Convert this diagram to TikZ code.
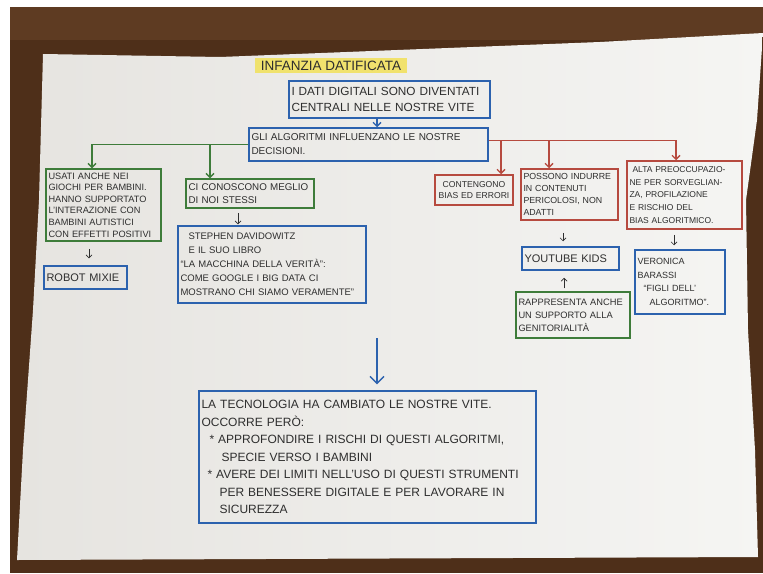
\documentclass[tikz,border=0pt]{standalone}
\usepackage{fontspec}
\setmainfont{Liberation Sans}
\usetikzlibrary{arrows.meta}
\definecolor{wood}{HTML}{4E2F19}
\definecolor{woodlight}{HTML}{5E3B22}
\definecolor{paperL}{HTML}{E6E4E0}
\definecolor{paperR}{HTML}{F5F5F3}
\definecolor{pblue}{HTML}{2C62AE}
\definecolor{pgreen}{HTML}{3E7C3A}
\definecolor{pred}{HTML}{B64A3F}
\definecolor{ink}{HTML}{2E2E2E}
\definecolor{hl}{HTML}{F2E158}
\begin{document}
\begin{tikzpicture}[x=1pt,y=-1pt,
  box/.style={draw, line width=1.5pt, rectangle, inner sep=2.5pt, align=left, text=ink},
  bluebox/.style={box, draw=pblue},
  greenbox/.style={box, draw=pgreen},
  redbox/.style={box, draw=pred},
  fsz/.style 2 args={font=\fontsize{#1}{#2}\selectfont},
  dims/.style 2 args={text width=#1-5pt, minimum width=#1, minimum height=#2},
  carrow/.style={line width=1.4pt, -{Straight Barb[length=4pt,width=8pt]}},
  sarrow/.style={line width=0.7pt, draw=ink, -{Straight Barb[length=3pt,width=6pt]}}
]
\useasboundingbox (0,0) rectangle (763,573);
% background
\fill[white] (0,0) rectangle (763,573);
\fill[wood] (10,7) rectangle (763,573);
\fill[woodlight] (10,7) rectangle (763,40);
\shade[left color=paperL, right color=paperR]
  (43,54) -- (220,57) -- (600,42) -- (763,33) -- (757,120) -- (746,200) -- (748,330)
  -- (755,450) -- (758,557) -- (17,560) -- (23,450) -- (33,310) -- (39,200) -- cycle;

% title
\fill[hl, opacity=0.85] (255,58) rectangle (407,73);
\node[text=ink, fsz={13.5}{15}] (title) at (331,65.5) {INFANZIA DATIFICATA};

% main boxes
\node[bluebox, fsz={11.8}{15.5}, dims={201pt}{37pt}] (b1) at (389.5,99.5)
  {I DATI DIGITALI SONO DIVENTATI\\CENTRALI NELLE NOSTRE VITE};
\node[bluebox, fsz={10}{14}, dims={239pt}{33pt}] (b2) at (368.5,144.5)
  {GLI ALGORITMI INFLUENZANO LE NOSTRE\\DECISIONI.};

% green branch
\node[greenbox, fsz={9.2}{11.6}, dims={115pt}{72pt}] (bA) at (103.5,205)
  {USATI ANCHE NEI\\GIOCHI PER BAMBINI.\\HANNO SUPPORTATO\\L'INTERAZIONE CON\\BAMBINI AUTISTICI\\CON EFFETTI POSITIVI};
\node[bluebox, fsz={11}{12}, dims={83pt}{23pt}] (bR) at (85.5,277.5) {ROBOT MIXIE};
\node[greenbox, fsz={9.8}{13}, dims={128pt}{29pt}] (bB) at (250,193.5)
  {CI CONOSCONO MEGLIO\\DI NOI STESSI};
\node[bluebox, fsz={9.5}{14}, dims={188pt}{77pt}] (bC) at (272,264.5)
  {\hspace*{8pt}STEPHEN DAVIDOWITZ\\\hspace*{8pt}E IL SUO LIBRO\\“LA MACCHINA DELLA VERITÀ”:\\COME GOOGLE I BIG DATA CI\\MOSTRANO CHI SIAMO VERAMENTE”};

% red branch
\node[redbox, fsz={8.6}{11.5}, text width=75pt, inner sep=1.5pt, minimum width=78pt, minimum height=30pt, align=center] (bD) at (474,190)
  {CONTENGONO\\BIAS ED ERRORI};
\node[redbox, fsz={8.8}{12}, dims={97pt}{51pt}] (bE) at (569.5,194.5)
  {POSSONO INDURRE\\IN CONTENUTI\\PERICOLOSI, NON\\ADATTI};
\node[redbox, fsz={8.5}{12.8}, dims={115pt}{68pt}] (bF) at (684.5,195)
  {\hspace*{3pt}ALTA PREOCCUPAZIO-\\NE PER SORVEGLIAN-\\ZA, PROFILAZIONE\\E RISCHIO DEL\\BIAS ALGORITMICO.};
\node[bluebox, fsz={11}{12}, dims={97pt}{23pt}] (bYT) at (570.5,258.5) {YOUTUBE KIDS};
\node[greenbox, fsz={9.3}{13}, dims={114pt}{46pt}] (bG) at (573,315)
  {RAPPRESENTA ANCHE\\UN SUPPORTO ALLA\\GENITORIALITÀ};
\node[bluebox, fsz={9}{13.5}, dims={90pt}{64pt}] (bV) at (680,282)
  {VERONICA\\BARASSI\\\hspace*{6pt}“FIGLI DELL'\\\hspace*{12pt}ALGORITMO”.};

% conclusion
\node[bluebox, fsz={12}{17.5}, dims={337pt}{132pt}] (bZ) at (367.5,457)
  {LA TECNOLOGIA HA CAMBIATO LE NOSTRE VITE.\\
   OCCORRE PERÒ:\\
   \hspace*{8pt}* APPROFONDIRE I RISCHI DI QUESTI ALGORITMI,\\
   \hspace*{20pt}SPECIE VERSO I BAMBINI\\
   \hspace*{6pt}* AVERE DEI LIMITI NELL'USO DI QUESTI STRUMENTI\\
   \hspace*{18pt}PER BENESSERE DIGITALE E PER LAVORARE IN\\
   \hspace*{18pt}SICUREZZA};

% connectors
\draw[carrow, draw=pblue] (b1.south -| 377,0) -- (b2.north -| 377,0);
\draw[carrow, draw=pgreen] (b2.west) -| (bA.north -| 92,0);
\draw[carrow, draw=pgreen] (b2.west -| 210,0) -- (bB.north -| 210,0);
\draw[carrow, draw=pred] ([yshift=4pt]b2.east) -| (bF.north -| 676,0);
\draw[carrow, draw=pred] ([yshift=4pt]b2.east -| 501,0) -- (bD.north -| 501,0);
\draw[carrow, draw=pred] ([yshift=4pt]b2.east -| 549,0) -- (bE.north -| 549,0);

\draw[sarrow, shorten <=7pt, shorten >=7pt] (bA.south -| 89,0) -- (bR.north -| 89,0);
\draw[sarrow, shorten <=4pt, shorten >=1pt] (bB.south -| 238,0) -- (bC.north -| 238,0);
\draw[sarrow, shorten <=12pt, shorten >=5pt] (bE.south -| 563,0) -- (bYT.north -| 563,0);
\draw[sarrow, shorten <=3pt, shorten >=7pt] (bG.north -| 564,0) -- (bYT.south -| 564,0);
\draw[sarrow, shorten <=5pt, shorten >=4pt] (bF.south -| 674,0) -- (bV.north -| 674,0);

\coordinate (bigstart) at (377,338);
\draw[line width=1.4pt, draw=pblue, -{Straight Barb[length=7pt,width=14pt]}, shorten >=6pt]
  (bigstart) -- (bZ.north -| bigstart);
\end{tikzpicture}
\end{document}
